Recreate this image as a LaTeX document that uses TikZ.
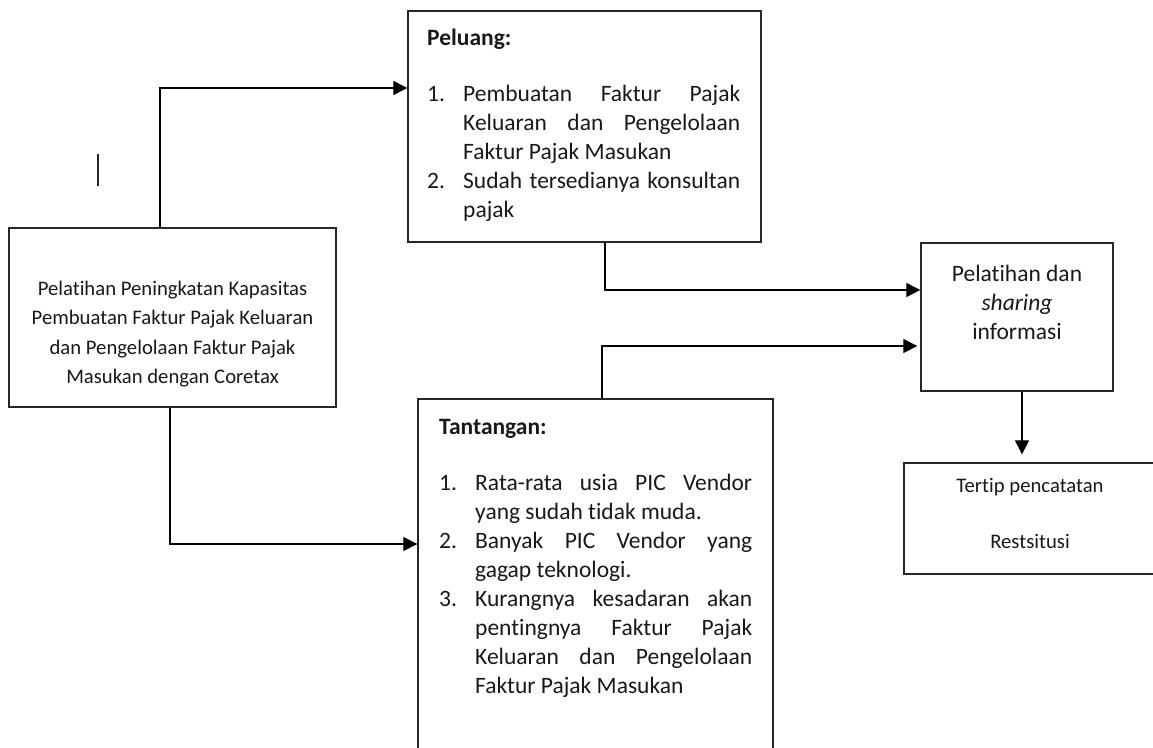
\documentclass[tikz,border=0pt]{standalone}
\usepackage{fontspec}
\setmainfont{Carlito}[Ligatures=NoCommon]
\usetikzlibrary{arrows.meta,positioning}

\hyphenpenalty=10000
\exhyphenpenalty=10000
\tolerance=10000
\hbadness=10000

\newcommand{\listitem}[2]{\par\noindent\hangindent=36pt\hangafter=1\makebox[36pt][l]{#1}#2\par}

\begin{document}
\begin{tikzpicture}[x=1pt,y=-1pt,>={Triangle[length=14pt,width=14pt]},
  every node/.style={inner sep=0pt,text=black!90},
  box/.style={draw=black!85,line width=1.4pt,rectangle},
  bigtext/.style={font=\fontsize{23.5}{29}\selectfont},
  smalltext/.style={font=\fontsize{20.7}{29.5}\selectfont},
  listtext/.style={bigtext,anchor=north west,text width=313pt,align=justify},
  link/.style={->,line width=1.3pt,draw=black}]
\path[use as bounding box,fill=white] (0,0) rectangle (1153,747);

\node[box,smalltext,minimum width=327pt,minimum height=179pt,align=center] (kapasitas) at (172.5,317.5)
  {\mbox{}\\[18pt]Pelatihan Peningkatan Kapasitas\\Pembuatan Faktur Pajak Keluaran\\dan Pengelolaan Faktur Pajak\\Masukan dengan Coretax};

\node[box,minimum width=353pt,minimum height=231pt] (peluang) at (584.5,126.5) {};
\node[listtext] (peluangtext) at (427,29)
  {\noindent\textbf{Peluang:}\par\vskip27pt
   \listitem{1.}{Pembuatan Faktur Pajak \linebreak Keluaran dan Pengelolaan \linebreak Faktur Pajak Masukan}
   \listitem{2.}{Sudah tersedianya konsultan \linebreak pajak}};

\node[box,minimum width=355pt,minimum height=400pt] (tantangan) at (595.5,599) {};
\node[listtext] (tantangantext) at (439,419)
  {\noindent\textbf{Tantangan:}\par\vskip27pt
   \listitem{1.}{Rata-rata usia PIC Vendor \linebreak yang sudah tidak muda.}
   \listitem{2.}{Banyak PIC Vendor yang \linebreak gagap teknologi.}
   \listitem{3.}{Kurangnya kesadaran akan \linebreak pentingnya Faktur Pajak \linebreak Keluaran dan Pengelolaan \linebreak Faktur Pajak Masukan}};

\node[box,bigtext,minimum width=192pt,minimum height=148pt,align=center] (pelatihan) at (1017,317)
  {Pelatihan dan\\\emph{sharing}\\informasi\\\mbox{}};

\node[box,smalltext,minimum width=252pt,minimum height=111pt,align=center] (tertip) at (1030,518.5)
  {Tertip pencatatan\\[26pt]Restsitusi\rule[-10pt]{0pt}{10pt}};

% stray mark
\draw[line width=1.3pt,black!85] (98,154) -- (98,186);

\draw[link] ([xshift=-12.5pt]kapasitas.north) |- ([yshift=38.5pt]peluang.west);
\draw[link] ([xshift=-2.5pt]kapasitas.south) |- ([yshift=55pt]tantangan.west);
\draw[link] ([xshift=20.5pt]peluang.south) |- ([yshift=27pt]pelatihan.west);
\draw[link,shorten >=3pt] ([xshift=6.5pt]tantangan.north) |- ([yshift=-29pt]pelatihan.west);
\coordinate (down) at ([xshift=5pt]pelatihan.south);
\draw[link,shorten >=8pt] (down) -- (down |- tertip.north);
\end{tikzpicture}
\end{document}
